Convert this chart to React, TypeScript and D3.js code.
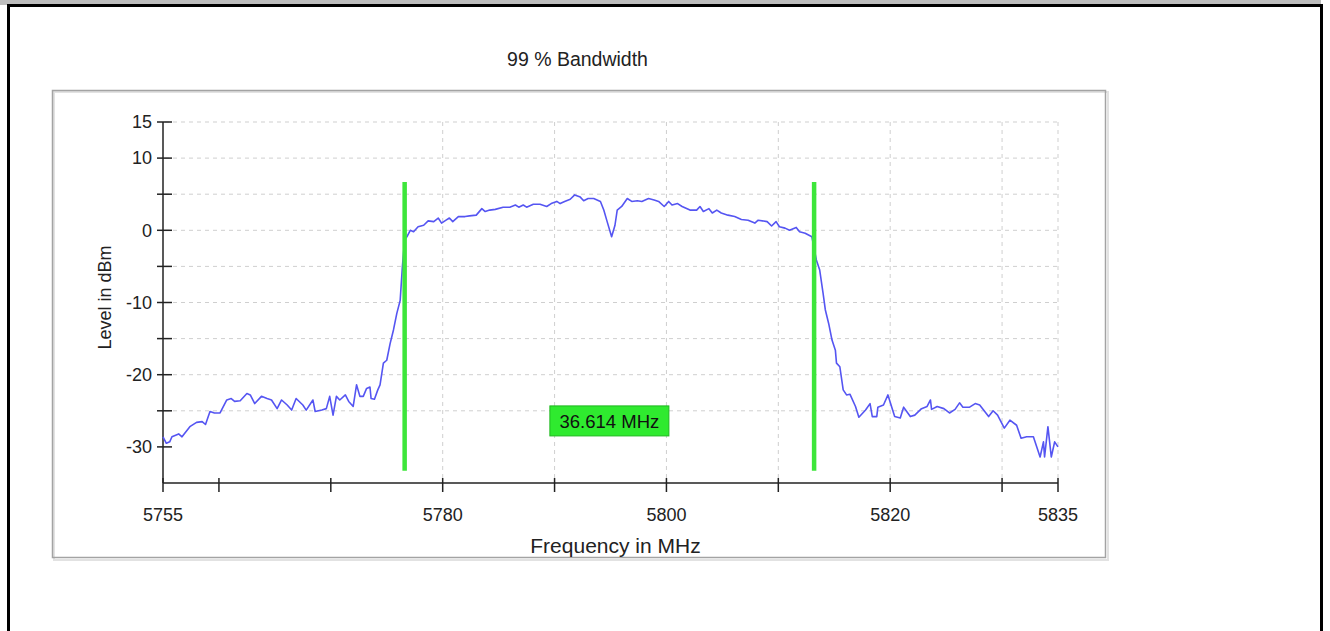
import React from "react";
import * as d3 from "d3";

const title = "99 % Bandwidth";
const xLabel = "Frequency in MHz";
const yLabel = "Level in dBm";
const bandwidthLabel = "36.614 MHz";

const xTicks = [5755, 5760, 5770, 5780, 5790, 5800, 5810, 5820, 5830, 5835];
const xTickLabels = [5755, 5780, 5800, 5820, 5835];
const xGrid = [5780, 5790, 5800, 5810, 5820, 5830, 5835];
const yTicks = [15, 10, 5, 0, -5, -10, -15, -20, -25, -30];
const yTickLabels = [15, 10, 0, -10, -20, -30];
const yGrid = [15, 10, 5, 0, -5, -10, -15, -20, -25];

const markerFreqs = [5776.6, 5813.2];
const markerLevels = [6.7, -33.3];
const labelLevel = -26.4;

const freqMHz = [
  5755.0, 5755.3, 5755.6, 5755.8, 5756.4, 5756.7, 5757.4, 5758.0, 5758.5, 5758.8,
  5759.2, 5759.6, 5760.1, 5760.7, 5761.1, 5761.4, 5761.9, 5762.5, 5762.8, 5763.2,
  5763.8, 5764.3, 5764.7, 5765.2, 5765.6, 5766.1, 5766.5, 5766.9, 5767.5, 5767.8,
  5768.4, 5768.6, 5769.2, 5769.6, 5769.9, 5770.2, 5770.5, 5770.8, 5771.3, 5771.6,
  5772.0, 5772.3, 5772.6, 5772.9, 5773.2, 5773.5, 5773.6, 5773.9, 5774.2, 5774.4,
  5774.7, 5775.0, 5775.3, 5775.6, 5775.9, 5776.2, 5776.4, 5776.6,
  5776.8, 5777.1, 5777.4, 5777.8, 5778.3, 5778.7, 5779.2, 5779.6, 5779.9, 5780.3,
  5780.6, 5780.9, 5781.4, 5782.0, 5782.4, 5783.0, 5783.5, 5783.8, 5784.2, 5784.7,
  5785.4, 5786.0, 5786.5, 5786.8, 5787.2, 5787.5, 5788.1, 5788.7, 5789.3, 5789.7,
  5790.2, 5790.5, 5790.9, 5791.4, 5791.8, 5792.3, 5792.6, 5793.0, 5793.5, 5794.1,
  5794.4, 5794.7, 5795.1, 5795.4, 5795.6, 5796.0, 5796.5, 5796.9, 5797.4, 5797.8,
  5798.4, 5798.9, 5799.3, 5799.8, 5800.2, 5800.5, 5801.0, 5801.4, 5802.1, 5802.7,
  5803.0, 5803.3, 5803.8, 5804.1, 5804.5, 5804.9, 5805.5, 5806.1, 5806.7, 5807.3,
  5807.9, 5808.2, 5809.0, 5809.4, 5809.8, 5810.1, 5810.6, 5811.0, 5811.6, 5811.9,
  5812.4, 5813.0,
  5813.4, 5813.7, 5814.0, 5814.2, 5814.5, 5814.8, 5815.1, 5815.2, 5815.5, 5815.8,
  5816.1, 5816.4, 5816.9, 5817.2, 5817.8, 5818.2, 5818.4, 5818.8, 5818.9, 5819.4,
  5819.8, 5820.4, 5820.9, 5821.2, 5821.8, 5822.2, 5822.8, 5823.3, 5823.6, 5823.7,
  5824.2, 5824.8, 5825.3, 5825.8, 5826.2, 5826.5, 5827.1, 5827.6, 5828.0, 5828.8,
  5829.2, 5829.6, 5830.2, 5830.7, 5831.3, 5831.7, 5832.2, 5832.8, 5833.4, 5833.7,
  5833.8, 5834.1, 5834.4, 5834.7, 5835.0,
];

const levelDbm = [
  -28.6, -29.5, -29.3, -28.6, -28.2, -28.6, -27.2, -26.6, -26.5, -26.9,
  -25.1, -25.3, -25.3, -23.5, -23.3, -23.7, -23.6, -22.6, -22.8, -24.0,
  -23.0, -23.3, -23.5, -24.7, -23.5, -24.2, -24.9, -23.3, -24.2, -24.9,
  -23.5, -25.1, -24.9, -24.7, -23.0, -25.6, -23.0, -23.5, -22.8, -23.7,
  -24.4, -21.4, -23.0, -23.0, -21.9, -21.7, -23.3, -23.4, -22.1, -21.4,
  -18.4, -18.0, -15.7, -13.8, -11.5, -9.7, -5.0, -1.3,
  -0.9, 0.0, -0.2, 0.5, 0.7, 1.3, 1.2, 1.7, 1.0, 1.4,
  1.7, 1.2, 1.9, 1.9, 2.0, 2.1, 3.0, 2.6, 2.8, 2.9,
  3.2, 3.2, 3.5, 3.2, 3.5, 3.2, 3.6, 3.6, 3.3, 3.7,
  4.0, 3.7, 4.0, 4.3, 4.9, 4.6, 4.1, 4.4, 4.4, 4.0,
  2.8, 1.2, -0.9, 0.7, 2.8, 3.3, 4.4, 4.0, 4.1, 4.0,
  4.4, 4.2, 4.0, 3.3, 4.0, 3.5, 3.7, 3.3, 2.8, 2.8,
  3.3, 2.6, 3.0, 2.4, 2.8, 2.4, 2.1, 1.9, 1.5, 1.4,
  1.0, 1.4, 1.2, 0.6, 1.2, 0.5, 0.3, 0.0, 0.4, -0.2,
  -0.4, -0.9,
  -4.1, -5.5, -8.7, -11.0, -12.9, -15.2, -16.6, -18.4, -18.9, -22.1,
  -22.8, -22.7, -24.4, -25.9, -24.9, -24.0, -25.8, -25.8, -24.5, -24.2,
  -22.8, -25.8, -26.0, -24.5, -25.8, -25.6, -24.7, -24.4, -23.5, -24.8,
  -24.4, -24.7, -25.3, -24.8, -23.9, -24.5, -24.5, -24.0, -24.2, -25.8,
  -25.0, -25.6, -27.4, -26.3, -27.0, -28.8, -28.6, -28.6, -31.4, -29.3,
  -31.4, -27.2, -31.4, -29.3, -30.0,
];

const FONT = "'Liberation Sans', Arial, Helvetica, sans-serif";
const TEXT = "#222";

export default function App() {
  const x = d3.scaleLinear().domain([5755, 5835]).range([163, 1058]);
  const y = d3.scaleLinear().domain([-35, 15]).range([483, 122]);

  const line = d3
    .line<number>()
    .x((_, i) => x(freqMHz[i]))
    .y((d) => y(d));

  const pathD = line(levelDbm) || "";
  const x0 = x.range()[0];
  const x1 = x.range()[1];
  const yBottom = y.range()[0];
  const yTop = y.range()[1];
  const mid = (x(markerFreqs[0]) + x(markerFreqs[1])) / 2;
  const labelY = y(labelLevel);

  return (
    <svg
      width={1330}
      height={631}
      style={{ position: "absolute", left: 0, top: 0, background: "#fff" }}
      fontFamily={FONT}
    >
      {/* outer table cell */}
      <rect x={0} y={0} width={1321} height={5} fill="#bdbdbd" />
      <line x1={7} x2={1323} y1={5.5} y2={5.5} stroke="#000" strokeWidth={3} />
      <line x1={8.5} x2={8.5} y1={4} y2={631} stroke="#000" strokeWidth={3} />
      <line x1={1321.5} x2={1321.5} y1={4} y2={631} stroke="#000" strokeWidth={3} />

      {/* inner chart frame with subtle shadow */}
      <rect x={54} y={92} width={1054} height={468} fill="none" stroke="#e2e2e2" strokeWidth={2} />
      <rect x={52.5} y={90.5} width={1053} height={467} fill="none" stroke="#a3a3a3" strokeWidth={1.5} />

      {/* title */}
      <text x={577.5} y={66} textAnchor="middle" fontSize={19.5} fill={TEXT}>
        {title}
      </text>

      {/* grid */}
      {yGrid.map((v) => (
        <line
          key={"hg" + v}
          x1={x0 + 2}
          x2={x1}
          y1={y(v)}
          y2={y(v)}
          stroke="#cfcfcf"
          strokeWidth={1}
          strokeDasharray="4,4"
        />
      ))}
      {xGrid.map((v) => (
        <line
          key={"vg" + v}
          x1={x(v)}
          x2={x(v)}
          y1={yTop}
          y2={yBottom - 2}
          stroke="#cfcfcf"
          strokeWidth={1}
          strokeDasharray="4,4"
        />
      ))}

      {/* axes */}
      <line x1={x0} x2={x0} y1={yTop} y2={yBottom} stroke="#222" strokeWidth={1.5} />
      <line x1={x0} x2={x1} y1={yBottom} y2={yBottom} stroke="#222" strokeWidth={1.5} />
      {yTicks.map((v) => (
        <line key={"yt" + v} x1={x0 - 6} x2={x0 + 9} y1={y(v)} y2={y(v)} stroke="#222" strokeWidth={1.5} />
      ))}
      {xTicks.map((v) => (
        <line key={"xt" + v} x1={x(v)} x2={x(v)} y1={yBottom - 5} y2={yBottom + 9} stroke="#222" strokeWidth={1.5} />
      ))}
      {yTickLabels.map((v) => (
        <text
          key={"yl" + v}
          x={152}
          y={y(v)}
          dy="0.35em"
          textAnchor="end"
          fontSize={18}
          fill={TEXT}
        >
          {v}
        </text>
      ))}
      {xTickLabels.map((v) => (
        <text key={"xl" + v} x={x(v)} y={521} textAnchor="middle" fontSize={18} fill={TEXT}>
          {v}
        </text>
      ))}

      {/* axis titles */}
      <text x={615.5} y={553} textAnchor="middle" fontSize={21} fill={TEXT}>
        {xLabel}
      </text>
      <text
        transform={`translate(111, 297.5) rotate(-90)`}
        textAnchor="middle"
        fontSize={18}
        fill={TEXT}
      >
        {yLabel}
      </text>

      {/* trace */}
      <path d={pathD} fill="none" stroke="#5555f2" strokeWidth={1.6} strokeLinejoin="round" />

      {/* bandwidth markers */}
      {markerFreqs.map((f) => (
        <line
          key={"m" + f}
          x1={x(f)}
          x2={x(f)}
          y1={y(markerLevels[0])}
          y2={y(markerLevels[1])}
          stroke="#3de63a"
          strokeWidth={4.5}
        />
      ))}
      <rect
        x={mid - 59.5}
        y={labelY - 15}
        width={119}
        height={30}
        fill="#2fea2f"
        stroke="#1fb81f"
        strokeWidth={1}
      />
      <text x={mid} y={labelY + 7} textAnchor="middle" fontSize={18.5} fill="#111">
        {bandwidthLabel}
      </text>
    </svg>
  );
}
